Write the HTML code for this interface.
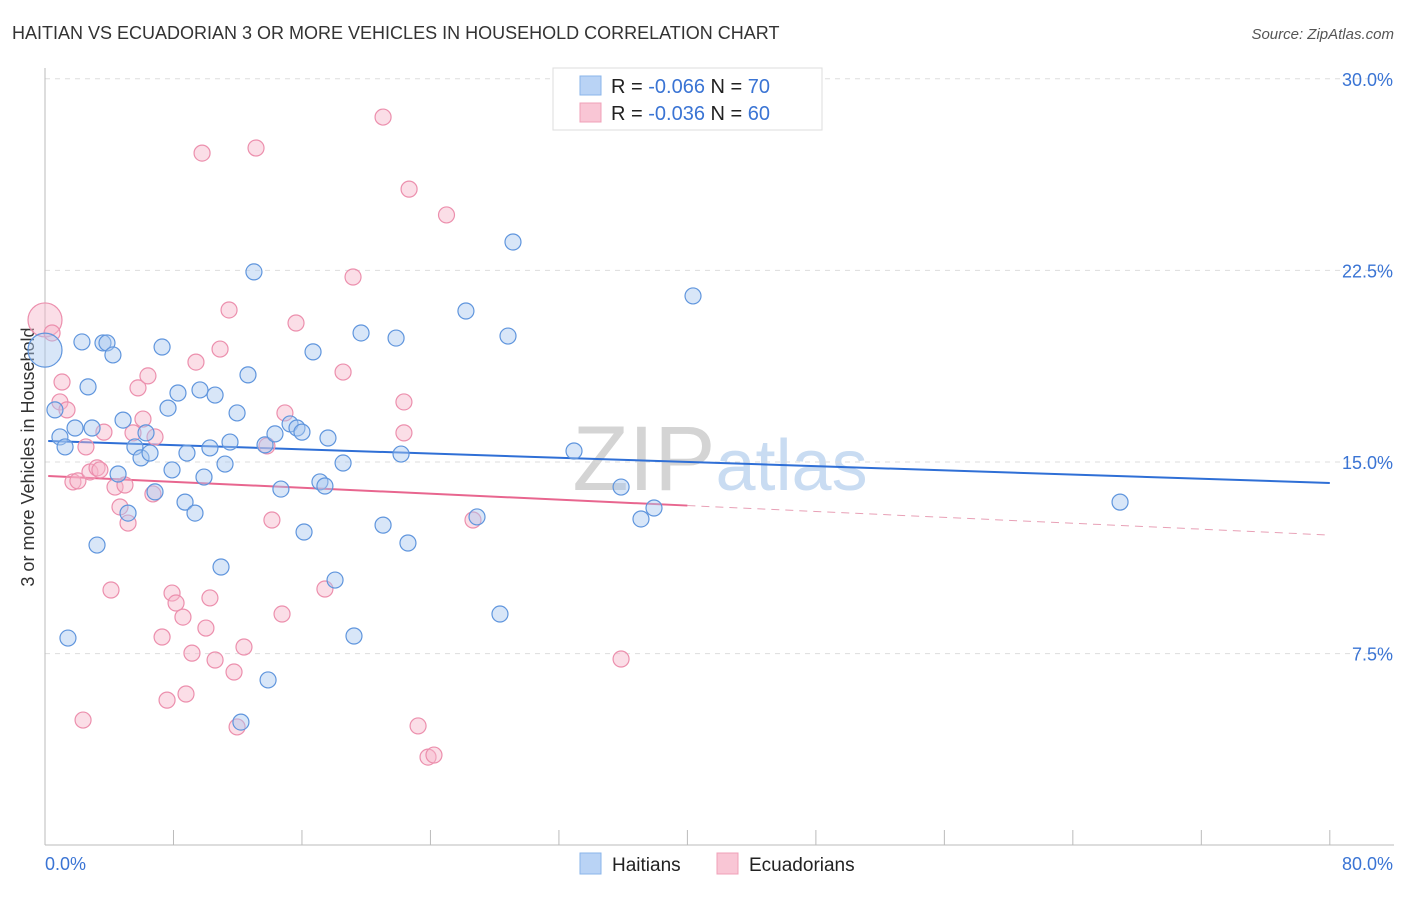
<!DOCTYPE html>
<html><head><meta charset="utf-8"><style>
body{margin:0;background:#fff;font-family:"Liberation Sans",sans-serif;}
svg text{font-family:"Liberation Sans",sans-serif;}
</style></head><body>
<svg id="chart" width="1406" height="892" xmlns="http://www.w3.org/2000/svg">
<text x="12" y="39" font-size="18" fill="#333">HAITIAN VS ECUADORIAN 3 OR MORE VEHICLES IN HOUSEHOLD CORRELATION CHART</text>
<text x="1394" y="39" font-size="15" fill="#555" font-style="italic" text-anchor="end">Source: ZipAtlas.com</text>
<text x="720" y="490" font-size="92" text-anchor="middle" fill="#dde3ea" font-family="Liberation Serif"><tspan fill="#d4d4d4">ZIP</tspan><tspan fill="#c9dcf2" font-family="Liberation Sans" font-size="72">atlas</tspan></text>
<text transform="translate(34,457) rotate(-90)" font-size="18" fill="#333" text-anchor="middle">3 or more Vehicles in Household</text>
<g id="grid"></g><g id="axes"></g><g id="trend"></g><g id="pts"></g>
<g>
<rect x="553" y="68" width="269" height="62" fill="#fff" stroke="#ddd"/>
<rect x="580" y="76" width="21" height="19" fill="#b9d3f5" stroke="#8ab4ea"/>
<rect x="580" y="103" width="21" height="19" fill="#f9c6d5" stroke="#f0a0b8"/>
<text x="611" y="93" font-size="20" fill="#222">R = <tspan fill="#3a74d4">-0.066</tspan>   N = <tspan fill="#3a74d4">70</tspan></text>
<text x="611" y="120" font-size="20" fill="#222">R = <tspan fill="#3a74d4">-0.036</tspan>   N = <tspan fill="#3a74d4">60</tspan></text>
</g>
<g>
<rect x="580" y="853" width="21" height="21" fill="#b9d3f5" stroke="#8ab4ea"/>
<text x="612" y="871" font-size="19" fill="#222">Haitians</text>
<rect x="717" y="853" width="21" height="21" fill="#f9c6d5" stroke="#f0a0b8"/>
<text x="749" y="871" font-size="19" fill="#222">Ecuadorians</text>
</g>
</svg>
<script>
const yTicks=[7.5,15,22.5,30];
const yTickLabels=["7.5%","15.0%","22.5%","30.0%"];
const xTickLabels=["0.0%","80.0%"];
const haitianX=[0,0.62,0.93,1.25,1.87,2.30,2.68,2.93,3.24,3.61,3.86,4.23,1.43,4.55,4.86,5.17,5.60,5.98,6.29,6.54,6.85,7.29,7.66,7.91,8.28,8.72,8.84,9.34,9.65,9.90,10.27,10.59,10.96,11.21,11.52,11.96,12.20,12.64,13.01,13.70,13.89,14.32,14.69,15.26,15.69,16.0,16.13,16.69,17.12,17.43,17.62,18.06,18.56,19.24,19.68,21.05,21.86,22.17,22.60,26.21,26.90,28.33,28.83,29.14,32.94,35.87,37.11,37.92,40.35,66.94];
const haitianY=[19.38,17.04,15.98,15.59,16.33,19.70,17.94,16.33,11.75,19.66,19.66,19.19,8.11,14.53,16.64,13.0,15.59,15.16,16.14,15.35,13.83,19.5,17.11,14.69,17.7,13.43,15.35,13.0,17.82,14.41,15.55,17.62,10.89,14.92,15.78,16.92,4.82,18.41,22.44,15.67,6.47,16.10,13.94,16.49,16.33,16.17,12.26,19.31,14.22,14.06,15.94,10.38,14.96,8.19,20.05,12.53,19.85,15.31,11.83,20.91,12.85,9.05,19.93,23.61,15.43,14.02,12.77,13.2,21.5,13.43];
const ecuX=[0,0.44,1.06,0.93,1.37,1.74,2.05,2.37,2.55,2.80,3.24,3.42,3.67,4.11,4.36,4.67,4.98,5.17,5.48,5.79,6.10,6.41,6.85,6.72,7.29,7.60,7.91,8.16,8.59,8.78,9.15,9.40,9.78,10.02,10.27,10.59,10.90,11.46,11.77,11.96,12.39,13.14,13.82,14.13,14.76,14.94,15.63,17.43,18.56,19.18,21.05,22.35,22.35,22.67,23.23,23.85,24.22,25.0,26.65,35.87];
const ecuY=[20.56,20.05,18.13,17.35,17.04,14.22,14.26,4.9,15.59,14.61,14.77,14.69,16.17,9.99,14.02,13.24,14.1,12.61,16.14,17.9,16.68,18.37,15.98,13.75,8.15,5.68,9.87,9.48,8.93,5.92,7.52,18.91,27.09,8.5,9.68,7.25,19.42,20.95,6.78,4.63,7.76,27.29,15.63,12.73,9.05,16.92,20.44,10.03,18.52,22.24,28.5,17.35,16.14,25.68,4.67,3.45,3.53,24.67,12.73,7.29];
const haitianTrend=[15.82,14.18];
const ecuTrend=[14.45,12.14];
const ecuSolidEnd=40;
const NS="http://www.w3.org/2000/svg";
const X=v=>45+v*16.06, Y=v=>462-(v-15)*25.55;
function mk(t,a,p){const e=document.createElementNS(NS,t);for(const k in a)e.setAttribute(k,a[k]);document.getElementById(p).appendChild(e);return e;}
yTicks.forEach((t,i)=>{
 const l=mk('line',{x1:45,x2:1394,y1:Y(t),y2:Y(t),stroke:'#ddd','stroke-dasharray':'5,5'},'grid');
 
 
 const tx=mk('text',{x:1393,y:Y(t)+7,'font-size':18,fill:'#3a74d4','text-anchor':'end'},'axes');
 tx.textContent=yTickLabels[i];
 
 
});
const ax=mk('line',{x1:45,x2:1394,y1:845,y2:845,stroke:'#bbb'},'axes');


const ay=mk('line',{x1:45,x2:45,y1:68,y2:845,stroke:'#bbb'},'axes');


for(let i=0;i<=10;i++){const t=mk('line',{x1:X(i*8),x2:X(i*8),y1:830,y2:845,stroke:'#bbb'},'axes');
 
 }
[[0,'start'],[80,'end']].forEach(([v,a],i)=>{const t=mk('text',{x:i?1393:45,y:870,'font-size':18,fill:'#3a74d4','text-anchor':a},'axes');t.textContent=xTickLabels[i];
 
 });
function pts(xs,ys,fill,stroke,name){xs.forEach((x,i)=>{const c=mk('circle',{cx:X(x),cy:Y(ys[i]),r:i==0?17:8,fill:fill,'fill-opacity':0.45,stroke:stroke,'stroke-width':1.2},'pts');
 
 });}
pts(ecuX,ecuY,'#f7b6c9','#ec8fad','ecuadorian-point');
pts(haitianX,haitianY,'#a9c8f0','#5f95dd','haitian-point');
const b=mk('line',{x1:X(0.2),x2:X(80),y1:Y(haitianTrend[0]),y2:Y(haitianTrend[1]),stroke:'#2f6fd6','stroke-width':2},'trend');


const pm=ecuTrend[0]+(ecuTrend[1]-ecuTrend[0])*ecuSolidEnd/80;
const p1=mk('line',{x1:X(0.2),x2:X(ecuSolidEnd),y1:Y(ecuTrend[0]),y2:Y(pm),stroke:'#e8668f','stroke-width':2},'trend');


const p2=mk('line',{x1:X(ecuSolidEnd),x2:X(80),y1:Y(pm),y2:Y(ecuTrend[1]),stroke:'#e8a0b6','stroke-width':1,'stroke-dasharray':'8,6'},'trend');


</script>
</body></html>
